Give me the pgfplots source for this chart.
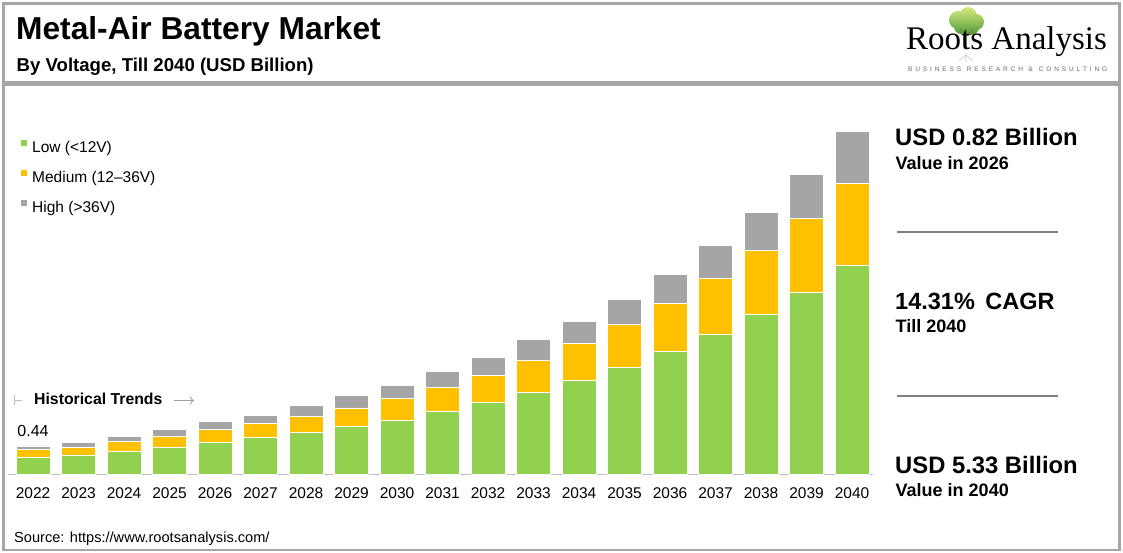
\documentclass[border=0pt]{standalone}
\usepackage{pgfplots}
\pgfplotsset{compat=1.18}
\usetikzlibrary{arrows.meta}
\usepackage{fontspec}
\setmainfont{Liberation Sans}
\newfontfamily\logofont{Liberation Serif}
\definecolor{cLow}{HTML}{92D050}
\definecolor{cMed}{HTML}{FFC000}
\definecolor{cHigh}{HTML}{A5A5A5}
\definecolor{frame}{HTML}{A6A6A6}
\definecolor{axgrey}{HTML}{BFBFBF}
\definecolor{sep}{HTML}{808080}
\definecolor{treetop}{HTML}{D8EA80}
\definecolor{treebot}{HTML}{4E9A3A}
\definecolor{trunk}{HTML}{6B7D4A}
\definecolor{refl}{HTML}{C8C8C8}
\definecolor{tagc}{HTML}{6A6A6A}
\definecolor{arrc}{HTML}{A0A0A0}
\newcommand\fs[1]{\fontsize{#1bp}{1.2\dimexpr #1bp\relax}\selectfont}
\begin{document}
\begin{tikzpicture}[x=1bp,y=1bp]
\path[use as bounding box] (0,0) rectangle (1123,553);
% frames
\draw[frame, line width=2.5bp] (3.5,549.5) rectangle (1119.5,471);
\draw[frame, line width=2.5bp] (3.5,468.5) rectangle (1119.5,3);
% header
\node[anchor=base west, inner sep=0] at (16,513.7) {\fs{31.7}\bfseries Metal-Air Battery Market};
\node[anchor=base west, inner sep=0] at (16.5,481.3) {\fs{18.6}\bfseries By Voltage, Till 2040 (USD Billion)};
% logo
\shade[top color=treetop, bottom color=treebot] (958,533) circle (9) (968,537) circle (9) (976,531) circle (8) (961,526) circle (7) (971,526) circle (8);
\draw[trunk, line width=1.4bp] (966,524) -- (966,506);
\draw[trunk, line width=0.8bp] (966,518) -- (960,524) (966,516) -- (973,523);
\draw[refl, line width=0.6bp] (966,500) -- (966,491) (966,498) -- (959,492) (966,498) -- (973,492);
\node[anchor=base west, inner sep=0] at (906,503) {\logofont\fs{33}Roots Analysis};
\node[anchor=base west, inner sep=0, text=tagc] at (908,481) {\fs{6.5}\makebox[199bp][s]{B\hfill U\hfill S\hfill I\hfill N\hfill E\hfill S\hfill S\hfill\hfill R\hfill E\hfill S\hfill E\hfill A\hfill R\hfill C\hfill H\hfill\hfill \&\hfill\hfill C\hfill O\hfill N\hfill S\hfill U\hfill L\hfill T\hfill I\hfill N\hfill G}};
\begin{axis}[
  at={(8bp,78.7bp)}, anchor=south west,
  scale only axis, width=864.5bp, height=386.4bp,
  xmin=-0.55, xmax=18.45, ymin=0, ymax=6,
  ybar stacked, bar width=34bp,
  axis x line*=bottom, axis y line=none,
  x axis line style={draw=axgrey, line width=1.3bp},
  xtick={0,...,18},
  xticklabels={2022,2023,2024,2025,2026,2027,2028,2029,2030,2031,2032,2033,2034,2035,2036,2037,2038,2039,2040},
  major tick length=0pt,
  ytick=\empty,
  /pgf/number format/assume math mode=true,
  xticklabel style={anchor=base, yshift=-24bp, font=\fs{15.5}, inner sep=0pt},
  legend image code/.code={\fill[#1,draw=none] (0bp,2.5bp) rectangle (6bp,8.5bp);},
  legend style={draw=none, fill=none, inner sep=0pt, at={(axis description cs:0.01504,0.8646)}, anchor=north west,
    font=\fs{15.5}, row sep=14bp, column sep=5bp,
    nodes={inner sep=0pt, text height=11.5bp, text depth=3.5bp}},
  legend cell align=left,
]
\addplot[fill=cLow, draw=white, line width=0.9bp] coordinates {
(0,0.26) (1,0.30) (2,0.35) (3,0.41) (4,0.49) (5,0.57) (6,0.65) (7,0.74) (8,0.84) (9,0.97)
(10,1.11) (11,1.27) (12,1.46) (13,1.66) (14,1.90) (15,2.17) (16,2.48) (17,2.83) (18,3.25)};
\addplot[fill=cMed, draw=white, line width=0.9bp] coordinates {
(0,0.12) (1,0.12) (2,0.16) (3,0.18) (4,0.20) (5,0.22) (6,0.25) (7,0.29) (8,0.33) (9,0.38)
(10,0.43) (11,0.50) (12,0.57) (13,0.67) (14,0.75) (15,0.87) (16,0.99) (17,1.14) (18,1.27)};
\addplot[fill=cHigh, draw=white, line width=0.9bp] coordinates {
(0,0.06) (1,0.08) (2,0.08) (3,0.10) (4,0.13) (5,0.13) (6,0.17) (7,0.19) (8,0.21) (9,0.24)
(10,0.27) (11,0.32) (12,0.35) (13,0.39) (14,0.46) (15,0.52) (16,0.60) (17,0.69) (18,0.81)};
\legend{Low (<12V), Medium (12--36V), High (>36V)}
\node[anchor=base, inner sep=0] at (axis cs:0,0.44) [yshift=9.4bp] {\fs{16}0.44};
\end{axis}
% historical trends
\draw[axgrey, line width=0.8bp] (14,148) -- (14,158) (14,153) -- (22,153);
\node[anchor=base west, inner sep=0] at (34,148) {\fs{15.8}\bfseries Historical Trends};
\draw[arrc, line width=0.8bp, -{To[length=4bp]}] (174,152.5) -- (194,152.5);
% right panel
\node[anchor=base west, inner sep=0] at (895,407) {\fs{23.8}\bfseries USD 0.82 Billion};
\node[anchor=base west, inner sep=0] at (895.5,383.7) {\fs{18}\bfseries Value in 2026};
\draw[sep, line width=2.2bp] (897,321.3) -- (1058,321.3);
\node[anchor=base west, inner sep=0] at (895,243) {\fs{23.5}\bfseries 14.31\%\hspace{0.45em}CAGR};
\node[anchor=base west, inner sep=0] at (895.5,220) {\fs{18}\bfseries Till 2040};
\draw[sep, line width=2.2bp] (897,157.3) -- (1058,157.3);
\node[anchor=base west, inner sep=0] at (895,79.7) {\fs{23.8}\bfseries USD 5.33 Billion};
\node[anchor=base west, inner sep=0] at (895.5,56.3) {\fs{18}\bfseries Value in 2040};
% source
\node[anchor=base west, inner sep=0] at (14,10) {\fs{14.6}Source: https://www.rootsanalysis.com/};
\end{tikzpicture}
\end{document}
